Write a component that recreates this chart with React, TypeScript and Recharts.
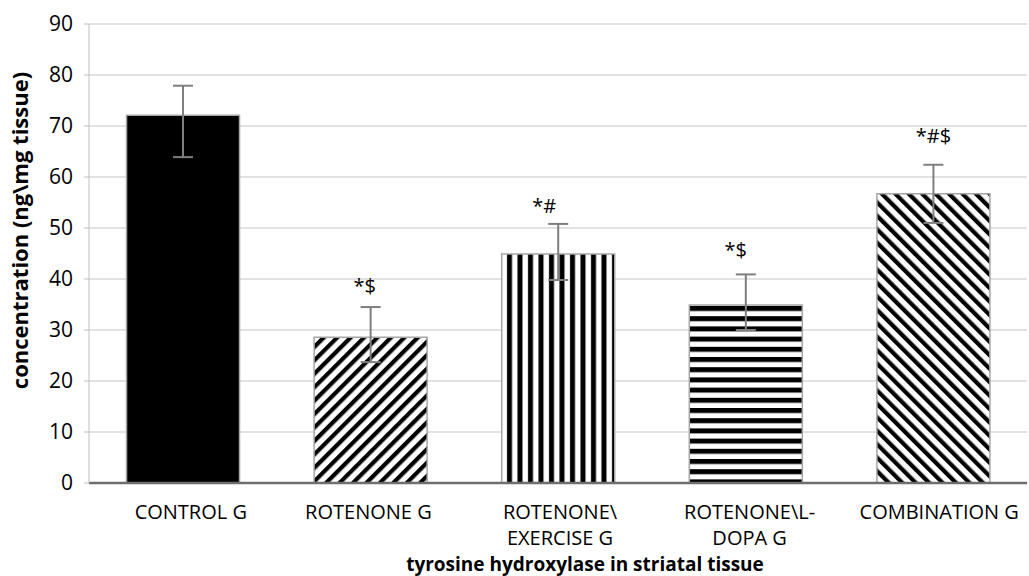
import React from 'react';
import { BarChart, Bar, XAxis, YAxis, CartesianGrid, ErrorBar, Cell, LabelList } from 'recharts';

const categories = ['CONTROL G', 'ROTENONE G', 'ROTENONE\\ EXERCISE  G', 'ROTENONE\\L- DOPA G', 'COMBINATION G'];
const tickLines = [['CONTROL G'], ['ROTENONE G'], ['ROTENONE\\', 'EXERCISE  G'], ['ROTENONE\\L-', 'DOPA G'], ['COMBINATION G']];
const values = [72.1, 28.6, 44.9, 34.9, 56.7];
const errLow = [8.2, 4.9, 5.1, 4.9, 5.7];
const errHigh = [5.8, 5.9, 5.9, 6.0, 5.7];
const marks = ['', '*$', '*#', '*$', '*#$'];
const markValues = [0, 37.3, 52.9, 44.3, 66.7];
const fills = ['#000000', 'url(#diagUp)', 'url(#vert)', 'url(#horiz)', 'url(#diagDown)'];
const yTicks = [0, 10, 20, 30, 40, 50, 60, 70, 80, 90];

const data = categories.map((c, i) => ({
  name: c,
  value: values[i],
  err: [errLow[i], errHigh[i]],
  mark: marks[i],
}));

const FONT = 'Open Sans, Liberation Sans, sans-serif';
const Y_MAX = 90;

const tickDx = [8, -2, 2, 4, 6];

const XTick = (props: any) => {
  const { x, y, payload } = props;
  const lines = tickLines[payload.index] || [payload.value];
  return (
    <g transform={`translate(${x + tickDx[payload.index]},${y})`}>
      {lines.map((l, i) => (
        <text key={i} x={0} y={28 + i * 26} textAnchor="middle" fontSize={20} fill="#000" fontFamily={FONT}>{l}</text>
      ))}
    </g>
  );
};

const markDx = [0, -6, -14, -10, 0];

const MarkLabel = (props: any) => {
  const { x, y, width, height, index } = props;
  const m = marks[index];
  if (!m) return null;
  const v = values[index];
  const pxPerUnit = height / v;
  const base = y + height;
  const ty = base - markValues[index] * pxPerUnit;
  return (
    <text x={x + width / 2 + markDx[index]} y={ty} textAnchor="middle" fontSize={20} fill="#000" fontFamily={FONT}>{m}</text>
  );
};

const YLabel = (props: any) => {
  const { viewBox } = props;
  const cy = viewBox.y + viewBox.height / 2 - 23;
  return (
    <text transform={`translate(28, ${cy}) rotate(-90)`} textAnchor="middle" fontSize={22} fontWeight="bold" fill="#000" fontFamily={FONT}>
      concentration (ng\mg tissue)
    </text>
  );
};

const XLabel = (props: any) => {
  const { viewBox } = props;
  const cx = viewBox.x + viewBox.width / 2 + 27;
  return (
    <text x={cx} y={571} textAnchor="middle" fontSize={19} fontWeight="bold" fill="#000" fontFamily={FONT}>
      tyrosine hydroxylase in striatal tissue
    </text>
  );
};

export default function App() {
  return (
    <div style={{ position: 'absolute', left: 0, top: 0, background: '#fff' }}>
      <BarChart width={1029} height={576} data={data} margin={{ top: 24, right: 2, bottom: 0, left: 0 }} barCategoryGap="20%">
        <defs>
          <pattern id="diagUp" patternUnits="userSpaceOnUse" width="9.5" height="9.5" patternTransform="rotate(45)">
            <rect width="9.5" height="9.5" fill="#fff" />
            <rect width="4.2" height="9.5" fill="#000" />
          </pattern>
          <pattern id="diagDown" patternUnits="userSpaceOnUse" width="9.5" height="9.5" patternTransform="rotate(-45)">
            <rect width="9.5" height="9.5" fill="#fff" />
            <rect width="4.2" height="9.5" fill="#000" />
          </pattern>
          <pattern id="vert" patternUnits="userSpaceOnUse" width="10.5" height="10">
            <rect width="10.5" height="10" fill="#fff" />
            <rect x="3" width="5" height="10" fill="#000" />
          </pattern>
          <pattern id="horiz" patternUnits="userSpaceOnUse" width="10" height="10.2">
            <rect width="10" height="10.2" fill="#fff" />
            <rect y="0" width="10" height="5" fill="#000" />
          </pattern>
        </defs>
        <CartesianGrid vertical={false} stroke="#d9d9d9" strokeWidth={1.5} />
        <XAxis
          dataKey="name"
          tick={<XTick />}
          tickLine={false}
          axisLine={{ stroke: '#6e6e6e', strokeWidth: 2.5 }}
          height={93}
          interval={0}
          label={<XLabel />}
        />
        <YAxis
          domain={[0, Y_MAX]}
          ticks={yTicks}
          width={89}
          tickLine={{ stroke: '#bfbfbf' }}
          tickSize={5}
          axisLine={{ stroke: '#bfbfbf' }}
          tick={{ fontSize: 21, fill: '#000', fontFamily: FONT }}
          tickMargin={11}
          label={<YLabel />}
        />
        <Bar dataKey="value" isAnimationActive={false} stroke="#a6a6a6" strokeWidth={1.5}>
          {data.map((d, i) => (
            <Cell key={i} fill={fills[i]} />
          ))}
          <ErrorBar dataKey="err" width={10} stroke="#7f7f7f" strokeWidth={2} direction="y" />
          <LabelList dataKey="mark" content={<MarkLabel />} />
        </Bar>
      </BarChart>
    </div>
  );
}
